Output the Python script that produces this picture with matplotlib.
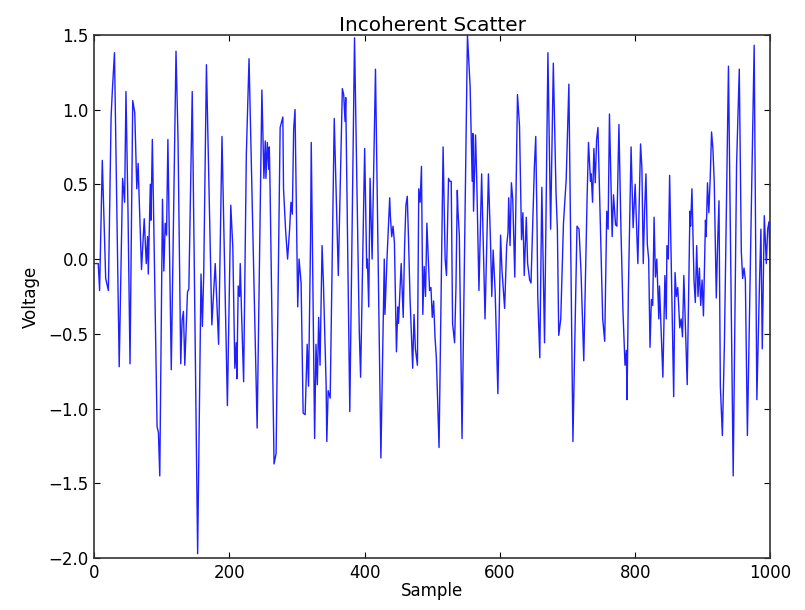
import matplotlib
matplotlib.use('Agg')
import matplotlib.pyplot as plt

# Vertices of the trace
sample = [0, 6, 8, 12, 17, 21, 25, 27, 30, 37, 42, 45, 47, 50, 53, 57, 60, 63, 65, 66,
          70, 74, 77, 79, 80, 83, 84, 86, 88, 93, 95, 97, 101, 103, 105, 107, 109, 114,
          121, 124, 128, 130, 132, 134, 138, 140, 145, 153, 158, 160, 162, 166,
          174, 179, 184, 189, 197, 202, 205, 208, 210, 211, 213, 215, 216, 218, 221,
          225, 229, 241, 248, 251, 253, 254, 256, 258, 259, 260, 266, 269, 275, 279,
          280, 283, 286, 289, 291, 293, 295, 297, 301, 303, 306, 309, 312, 315, 317,
          320, 321, 324, 326, 328, 330, 332, 334, 337, 339, 343, 344, 346, 349, 355,
          361, 367, 369, 371, 372, 378, 385, 392, 394, 400, 403, 404, 406, 408, 411,
          416, 424, 429, 430, 433, 437, 438, 440, 442, 444, 447, 449, 450, 454, 457,
          459, 461, 463, 465, 467, 471, 473, 475, 478, 480, 482, 484, 486, 488, 490,
          492, 494, 496, 498, 500, 502, 504, 506, 510, 516, 519, 521, 524, 526, 528,
          530, 533, 535, 537, 538, 540, 544, 552, 556, 559, 560, 561, 564, 566, 569,
          573, 578, 583, 586, 588, 590, 593, 597, 601, 603, 607, 610, 612, 613, 615,
          617, 619, 622, 626, 629, 632, 634, 636, 639, 641, 644, 646, 649, 651, 653,
          655, 656, 659, 662, 666, 671, 675, 679, 683, 685, 687, 690, 692, 694, 698,
          702, 708, 714, 717, 720, 724, 729, 731, 734, 735, 737, 739, 741, 743, 745,
          749, 752, 755, 758, 760, 762, 766, 768, 771, 773, 776, 779, 782, 785, 787,
          788, 790, 794, 797, 800, 804, 808, 810, 812, 814, 816, 818, 820, 822, 824,
          826, 828, 830, 832, 835, 836, 841, 844, 846, 847, 849, 851, 857, 859, 861,
          863, 866, 868, 870, 872, 877, 881, 882, 884, 887, 889, 891, 893, 895, 897,
          899, 901, 904, 905, 907, 909, 911, 913, 915, 917, 920, 922, 924, 926, 929,
          932, 938, 945, 950, 954, 957, 959, 961, 963, 966, 976, 980, 984, 986, 988,
          991, 994, 996, 998, 1000]
voltage = [-0.03, -0.03, -0.21, 0.66, -0.13, -0.21, 0.95, 1.14, 1.38, -0.72, 0.54, 0.38,
           1.12, 0.32, -0.70, 1.06, 0.98, 0.47, 0.64, 0.48, -0.07, 0.27, -0.03, 0.15,
           -0.10, 0.50, 0.26, 0.80, 0.27, -1.12, -1.16, -1.45, 0.40, -0.08, 0.24, 0.16,
           0.80, -0.74, 1.39, 0.80, -0.70, -0.41, -0.35, -0.71, -0.22, -0.20, 1.12,
           -1.97, -0.10, -0.45, -0.10, 1.30,
           -0.44, -0.03, -0.57, 0.82, -0.98, 0.36, 0.08, -0.73, -0.56, -0.80, -0.18,
           -0.25, -0.03, -0.37, -0.82, 0.70, 1.34, -1.13, 1.13, 0.54, 0.79, 0.54, 0.78,
           0.60, 0.75, 0.51, -1.37, -1.30, 0.88, 0.95, 0.47, 0.20, 0.00, 0.20, 0.38,
           0.30, 0.87, 1.00, -0.32, 0.00, -0.16, -1.03, -1.04, -0.57, -0.85, 0.14,
           0.78, -0.38, -1.20, -0.57, -0.84, -0.39, -0.71, 0.09, -0.16, -0.84, -1.22,
           -0.88, -0.93, 0.94, -0.11, 1.14, 1.10, 0.92, 1.08, -1.02, 1.48, -0.48,
           -0.79, 0.74, -0.06, 0.00, -0.32, 0.54, 0.00, 1.27, -1.33, 0.00, -0.37, 0.00,
           0.41, 0.29, 0.15, 0.22, 0.11, -0.62, -0.32, -0.43, -0.03, -0.39, 0.08, 0.36,
           0.42, 0.11, -0.25, -0.73, -0.37, -0.60, -0.71, 0.47, 0.38, 0.62, -0.37,
           -0.05, -0.25, 0.24, 0.02, -0.21, -0.19, -0.39, -0.28, -0.52, -0.66, -1.26,
           0.75, 0.00, -0.11, 0.54, 0.52, 0.52, -0.43, -0.56, -0.19, 0.46, 0.32, 0.16,
           -1.20, 1.50, 1.15, 0.52, 0.84, 0.32, 0.83, 0.48, -0.21, 0.57, -0.40, 0.57,
           0.13, -0.25, 0.06, -0.22, -0.90, 0.16, -0.07, -0.33, 0.09, 0.18, 0.41, 0.09,
           0.51, 0.40, -0.12, 1.10, 0.89, 0.13, 0.31, -0.11, 0.28, -0.03, -0.14, -0.16,
           0.31, 0.62, 0.82, 0.20, -0.25, -0.66, 0.48, -0.56, 1.38, 0.20, 1.31, 0.44,
           0.20, -0.51, -0.40, -0.09, 0.24, 0.53, 1.17, -1.22, 0.22, 0.20, -0.09, -0.68,
           0.42, 0.78, 0.52, 0.57, 0.38, 0.74, 0.51, 0.80, 0.88, 0.15, -0.40, -0.55,
           0.32, 0.20, 0.97, 0.15, 0.43, 0.23, 0.22, 0.90, 0.20, -0.35, -0.71, -0.61,
           -0.94, -0.21, 0.75, 0.21, 0.50, -0.03, 0.77, 0.61, -0.03, 0.33, 0.57, 0.10,
           0.00, -0.59, -0.27, -0.31, 0.28, -0.12, 0.00, -0.40, -0.18, -0.79, -0.11,
           -0.40, 0.09, 0.00, 0.56, -0.92, -0.09, -0.25, -0.19, -0.46, -0.40, -0.52,
           -0.11, -0.84, 0.32, 0.22, 0.47, -0.14, -0.29, 0.09, -0.25, -0.06, -0.31,
           -0.14, -0.38, 0.26, 0.15, 0.51, 0.31, 0.54, 0.85, 0.74, 0.51, -0.26, 0.11,
           0.39, -0.85, -1.18, -0.57, 1.29, -1.45, 0.63, 1.27, 0.05, -0.13, -0.06,
           -0.14, -1.18, 1.43, -0.94, -0.14, 0.20, -0.60, 0.29, -0.03, 0.20, 0.25,
           -0.15]

plt.rcParams['font.family'] = 'DejaVu Sans'
plt.rcParams['font.size'] = 12

fig = plt.figure(figsize=(8.05, 6.10), dpi=100)
ax = fig.add_axes([0.117, 0.085, 0.840, 0.858])
ax.plot(sample, voltage, color='#1f1fff', linewidth=1.0)
ax.set_xlim(0, 1000)
ax.set_ylim(-2.0, 1.5)
ax.set_xticks([0, 200, 400, 600, 800, 1000])
ax.set_yticks([-2.0, -1.5, -1.0, -0.5, 0.0, 0.5, 1.0, 1.5])
ax.tick_params(direction='in', top=True, right=True, length=4, width=0.8, labelsize=12, pad=4)
for spine in ax.spines.values():
    spine.set_color('#333333')
    spine.set_linewidth(1.2)
ax.set_title('Incoherent Scatter', fontsize=14.4, pad=3)
ax.set_xlabel('Sample', fontsize=12, labelpad=0)
ax.set_ylabel('Voltage', fontsize=12, labelpad=6)

fig.savefig('out.png', dpi=100, facecolor='white')
